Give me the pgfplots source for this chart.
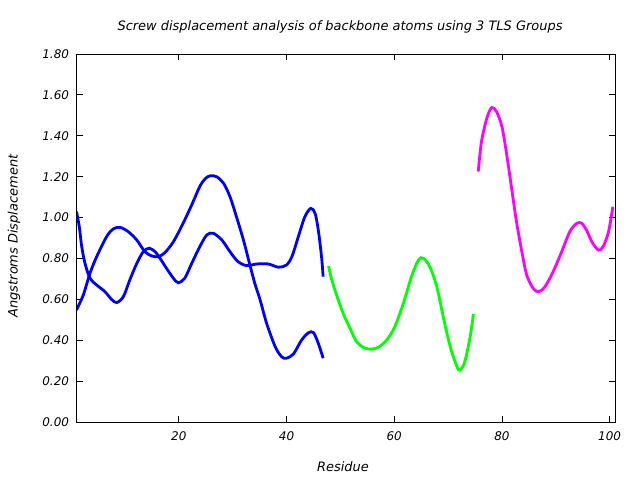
\documentclass[border=0pt]{standalone}
\usepackage{pgfplots}
\pgfplotsset{compat=1.18}
\usepackage{fontspec}
\setmainfont{DejaVu Sans}
\definecolor{gblue}{RGB}{0,0,255}
\definecolor{ggreen}{RGB}{0,255,0}
\definecolor{gmag}{RGB}{255,0,255}
\begin{document}
\begin{tikzpicture}[x=1bp,y=1bp]
\path[use as bounding box] (0,0) rectangle (640,480);
\begin{axis}[
  at={(76.5bp,58bp)}, anchor=south west,
  scale only axis, width=538.5bp, height=368bp,
  xmin=1, xmax=101, ymin=0, ymax=1.8,
  xtick={20,40,60,80,100},
  ytick={0,0.2,...,1.8},
  tick pos=both, tick align=inside,
  major tick length=6bp,
  axis line style={line width=0.8bp},
  tick style={line width=0.8bp, black},
  ticklabel style={font=\fontsize{12}{14}\selectfont\itshape},
  /pgf/number format/assume math mode=true,
  yticklabel style={xshift=-4bp, /pgf/number format/fixed, /pgf/number format/fixed zerofill, /pgf/number format/precision=2},
  xticklabel style={yshift=-6bp},
  every axis plot/.append style={line width=2.8bp, smooth, no markers},
]
\addplot[gblue] coordinates {
(1,1.029)(1.52,0.955)(1.97,0.858)(2.58,0.776)(3.5,0.703)(4.75,0.670)(6.3,0.637)(7.5,0.600)(8.46,0.584)(9.7,0.613)(10.9,0.695)(12.2,0.776)(13.4,0.833)(14.5,0.850)(15.6,0.833)(16.5,0.801)(17.7,0.752)(19,0.703)(19.9,0.681)(21.1,0.703)(22.4,0.776)(23.9,0.858)(25.2,0.915)(26.4,0.923)(28,0.89)(29.5,0.833)(31,0.784)(32.6,0.765)(34.5,0.773)(36.6,0.773)(38.5,0.757)(40,0.768)(41,0.809)(42.2,0.907)(43.4,1.004)(44.5,1.045)(45.3,1.021)(45.9,0.939)(46.5,0.809)(46.8,0.711)
};
\addplot[gblue] coordinates {
(1,0.548)(2.26,0.621)(3.5,0.727)(4.75,0.809)(6.6,0.907)(7.8,0.944)(9.1,0.952)(10.6,0.931)(12.2,0.89)(13.7,0.833)(15,0.812)(16.2,0.809)(17.4,0.828)(19,0.882)(20.8,0.972)(22.4,1.062)(23.9,1.152)(24.9,1.19)(25.8,1.204)(27,1.2)(28.3,1.168)(29.5,1.102)(30.7,1.004)(32,0.89)(33.2,0.768)(34.1,0.679)(35.1,0.597)(36.3,0.483)(37.9,0.368)(39.1,0.319)(40,0.312)(41.3,0.333)(42.8,0.401)(44.1,0.437)(45,0.437)(45.9,0.385)(46.8,0.312)
};
\addplot[ggreen] coordinates {
(47.8,0.763)(48.4,0.695)(49.3,0.621)(50.5,0.532)(51.8,0.458)(53,0.393)(54.3,0.365)(55.5,0.356)(57,0.365)(58.6,0.401)(60.1,0.466)(61.7,0.581)(63.2,0.711)(64.5,0.793)(65.4,0.801)(66.6,0.76)(67.9,0.662)(69.1,0.515)(70.4,0.368)(71.6,0.274)(72.2,0.254)(73.1,0.295)(74.1,0.417)(74.7,0.528)
};
\addplot[gmag] coordinates {
(75.6,1.225)(76.2,1.371)(77.2,1.486)(78.1,1.538)(79,1.518)(80,1.445)(80.9,1.306)(81.8,1.143)(82.7,0.98)(83.7,0.833)(84.6,0.719)(85.8,0.654)(86.8,0.637)(88,0.662)(89.5,0.735)(91.1,0.833)(92.6,0.931)(93.9,0.972)(94.8,0.972)(95.7,0.939)(96.7,0.882)(97.9,0.841)(98.8,0.858)(99.8,0.931)(100.6,1.053)
};
\end{axis}
\node[font=\fontsize{13}{15}\selectfont\itshape] at (340,453) {Screw displacement analysis of backbone atoms using 3 TLS Groups};
\node[font=\fontsize{13}{15}\selectfont\itshape] at (343,13) {Residue};
\node[font=\fontsize{13}{15}\selectfont\itshape, rotate=90] at (14,244) {Angstroms Displacement};
\end{tikzpicture}
\end{document}
